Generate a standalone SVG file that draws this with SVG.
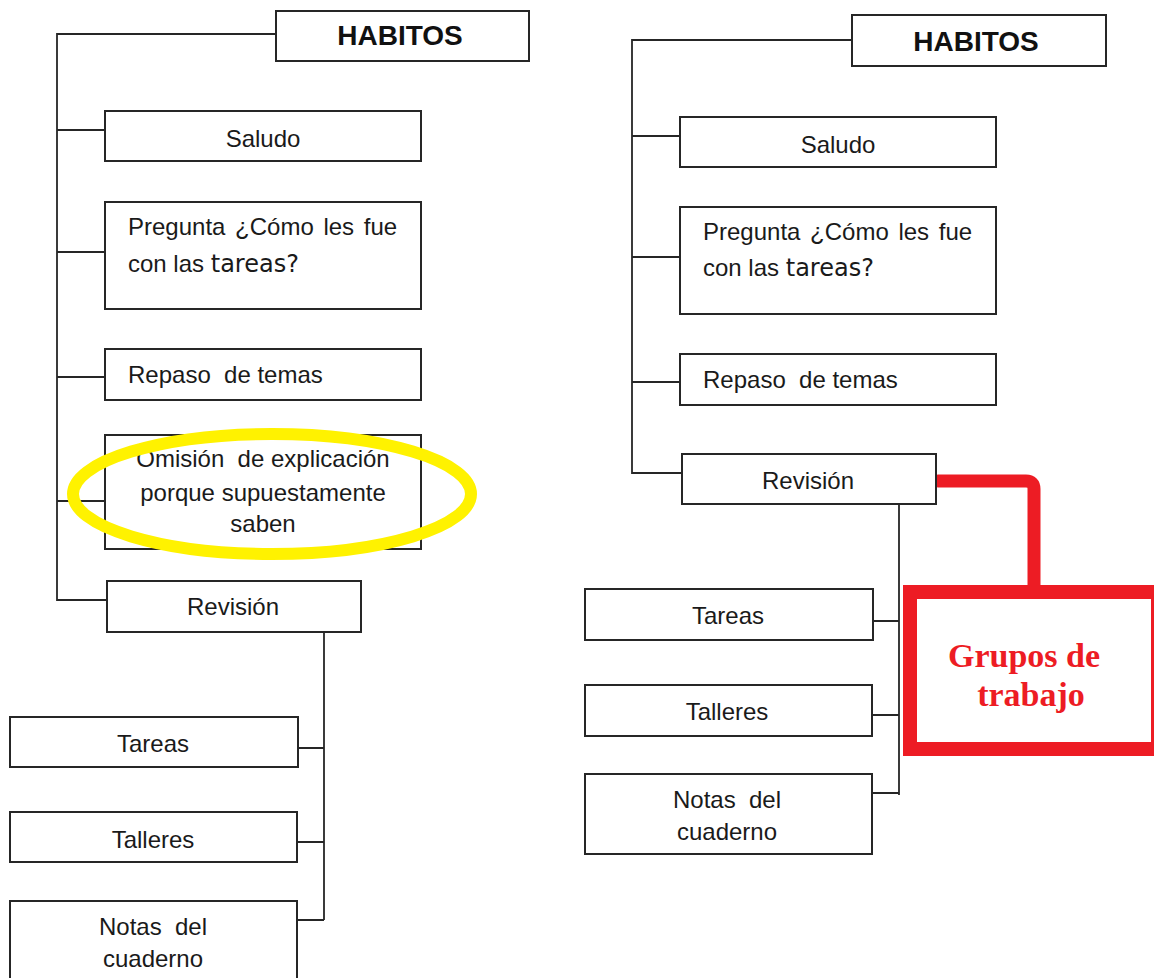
<svg xmlns="http://www.w3.org/2000/svg" width="1154" height="978" viewBox="0 0 1154 978">
<style>
.box{fill:#fff;stroke:#262626;stroke-width:2}
.conn{fill:none;stroke:#262626;stroke-width:1.8}
.t{font-family:"Liberation Sans",Arial,sans-serif;font-size:24px;fill:#1a1a1a;white-space:pre}
.c{text-anchor:middle}
.h{font-family:"Liberation Sans",Arial,sans-serif;font-size:28px;font-weight:bold;fill:#111;text-anchor:middle}
.v{font-family:"DejaVu Sans",Verdana,sans-serif;font-size:24px}
.red{font-family:"Liberation Serif","Times New Roman",serif;font-size:34px;font-weight:bold;fill:#ED1C24;text-anchor:middle}
</style>
<rect width="1154" height="978" fill="#fff"/>
<g id="connectors">
<path class="conn" d="M276 34 H57 V600 H107 M57 130 H105 M57 252 H105 M57 377 H105 M57 501 H105"/>
<path class="conn" d="M324 632 V920 M298 748 H324 M297 842 H324 M297 920 H324"/>
<path class="conn" d="M852 40 H632 V473 H682 M632 136 H680 M632 257 H680 M632 382 H680"/>
<path class="conn" d="M899 504 V795 M873 621 H899 M872 715 H899 M872 793 H899"/>
<path d="M938 481 H1026 Q1034 481 1034 489 V592" fill="none" stroke="#ED1C24" stroke-width="13" stroke-linecap="round"/>
</g>
<g id="habitosL"><rect class="box" x="276" y="11" width="253" height="50"/><text class="h" x="400" y="45">HABITOS</text></g>
<g id="saludoL"><rect class="box" x="105" y="111" width="316" height="50"/><text class="t c" x="263" y="147">Saludo</text></g>
<g id="preguntaL"><rect class="box" x="105" y="202" width="316" height="107"/><text class="t" x="128" y="235" word-spacing="3">Pregunta ¿Cómo les fue</text><text class="t" x="128" y="272">con las <tspan class="v">tareas?</tspan></text></g>
<g id="repasoL"><rect class="box" x="105" y="349" width="316" height="51"/><text class="t" x="128" y="383">Repaso  de temas</text></g>
<g id="omisionL"><rect class="box" x="105" y="435" width="316" height="114"/><text class="t c" x="263" y="467">Omisión  de explicación</text><text class="t c" x="263" y="501">porque supuestamente</text><text class="t c" x="263" y="532">saben</text></g>
<g id="revisionL"><rect class="box" x="107" y="581" width="254" height="51"/><text class="t c" x="233" y="615">Revisión</text></g>
<g id="tareasL"><rect class="box" x="10" y="717" width="288" height="50"/><text class="t c" x="153" y="752">Tareas</text></g>
<g id="talleresL"><rect class="box" x="10" y="812" width="287" height="50"/><text class="t c" x="153" y="848">Talleres</text></g>
<g id="notasL"><rect class="box" x="10" y="901" width="287" height="90"/><text class="t c" x="153" y="935">Notas  del</text><text class="t c" x="153" y="967">cuaderno</text></g>
<ellipse id="highlight" cx="272" cy="494" rx="199" ry="60" fill="none" stroke="#FFF200" stroke-width="12"/>
<g id="habitosR"><rect class="box" x="852" y="15" width="254" height="51"/><text class="h" x="976" y="51">HABITOS</text></g>
<g id="saludoR"><rect class="box" x="680" y="117" width="316" height="50"/><text class="t c" x="838" y="153">Saludo</text></g>
<g id="preguntaR"><rect class="box" x="680" y="207" width="316" height="107"/><text class="t" x="703" y="240" word-spacing="3">Pregunta ¿Cómo les fue</text><text class="t" x="703" y="276">con las <tspan class="v">tareas?</tspan></text></g>
<g id="repasoR"><rect class="box" x="680" y="354" width="316" height="51"/><text class="t" x="703" y="388">Repaso  de temas</text></g>
<g id="revisionR"><rect class="box" x="682" y="454" width="254" height="50"/><text class="t c" x="808" y="489">Revisión</text></g>
<g id="tareasR"><rect class="box" x="585" y="589" width="288" height="51"/><text class="t c" x="728" y="624">Tareas</text></g>
<g id="talleresR"><rect class="box" x="585" y="685" width="287" height="51"/><text class="t c" x="727" y="720">Talleres</text></g>
<g id="notasR"><rect class="box" x="585" y="774" width="287" height="80"/><text class="t c" x="727" y="808">Notas  del</text><text class="t c" x="727" y="840">cuaderno</text></g>
<g id="grupos"><rect x="910" y="592" width="248" height="157" fill="#fff" stroke="#ED1C24" stroke-width="14"/><text class="red" x="1024" y="667">Grupos de</text><text class="red" x="1031" y="706">trabajo</text></g>
</svg>
